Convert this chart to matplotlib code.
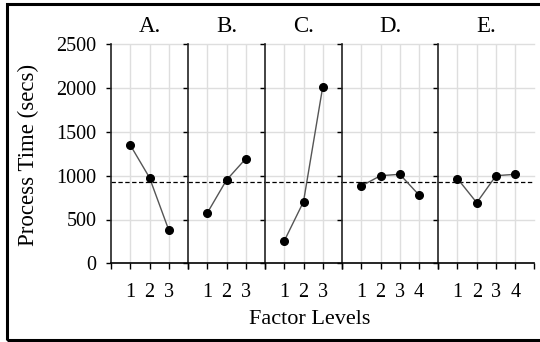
import matplotlib
matplotlib.use("Agg")
import matplotlib.pyplot as plt
from matplotlib.patches import Rectangle

plt.rcParams['font.family'] = ['Liberation Serif', 'DejaVu Serif']

# main effects per factor (process time in secs)
factors = ["A.", "B.", "C.", "D.", "E."]
levels_A = [1350, 978, 380]
levels_B = [574, 950, 1194]
levels_C = [255, 703, 2016]
levels_D = [882, 1000, 1016, 780]
levels_E = [966, 692, 1000, 1016]
grand_mean = 928
y_ticks = [0, 500, 1000, 1500, 2000, 2500]

all_levels = [levels_A, levels_B, levels_C, levels_D, levels_E]

fig = plt.figure(figsize=(5.4, 3.42), dpi=100)
ratios = [len(v) + 1 for v in all_levels]
gs = fig.add_gridspec(1, 5, width_ratios=ratios, wspace=0,
                      left=111/540, right=534.5/540,
                      bottom=78.7/342, top=297.7/342)

grid_col = "#dedede"
for i, (name, vals) in enumerate(zip(factors, all_levels)):
    ax = fig.add_subplot(gs[0, i])
    n = len(vals)
    xs = list(range(1, n + 1))
    ax.set_xlim(0, n + 1)
    ax.set_ylim(0, 2500)
    # grid
    for x in xs:
        ax.axvline(x, color=grid_col, lw=1, zorder=0)
    for y in y_ticks[1:]:
        ax.axhline(y, color=grid_col, lw=1, zorder=0, clip_on=False)
    ax.axhline(grand_mean, color="black", lw=0.9, ls=(0, (3.5, 2)), zorder=2)
    ax.plot(xs, vals, color="#555555", lw=1, zorder=3)
    ax.plot(xs, vals, 'o', color="black", ms=5.5, zorder=4)

    ax.set_xticks(range(0, n + 2))
    ax.set_xticklabels([""] + [str(x) for x in xs] + [""])
    ax.set_yticks(y_ticks)
    if i == 0:
        ax.set_yticklabels([str(y) for y in y_ticks])
    else:
        ax.set_yticklabels([])
    ax.tick_params(axis='x', direction='out', length=4.5, width=1,
                   pad=10, labelsize=14.5)
    ax.tick_params(axis='y', direction='out', length=3.5, width=1,
                   pad=7, labelsize=14.5)
    for s in ("top", "right"):
        ax.spines[s].set_visible(False)
    ax.spines["left"].set_color("#222222")
    ax.spines["left"].set_linewidth(1.2)
    ax.spines["bottom"].set_linewidth(1.2)
    ax.set_title(name, fontsize=16.5, pad=9)

fig.text(28/540, 1 - 155/342, "Process Time (secs)", rotation=90,
         ha="center", va="center", fontsize=16.5)
fig.text(310/540, 1 - 320/342, "Factor Levels",
         ha="center", va="center", fontsize=16)

# black frame round the figure (right edge cut off)
fig.patches.append(Rectangle((7/540, 2/342), 1.0, 1 - 6/342,
                             transform=fig.transFigure, fill=False,
                             edgecolor="black", lw=2.2, clip_on=False))

fig.savefig("out.png", dpi=100)
